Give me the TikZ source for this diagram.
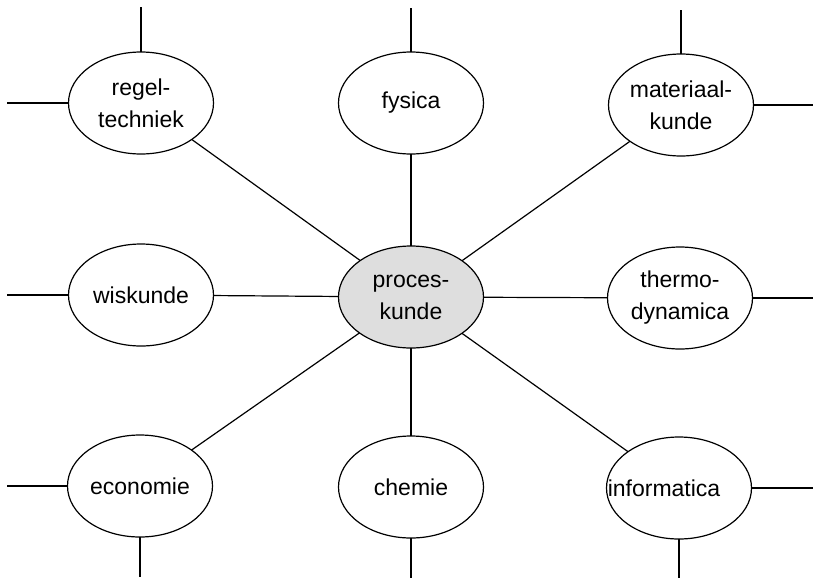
\documentclass[tikz,border=0pt]{standalone}
\usepackage{fontspec}
\setmainfont{Liberation Sans}
\usetikzlibrary{shapes.geometric}
\begin{document}
\begin{tikzpicture}[x=0.5pt,y=-0.5pt,
  ell/.style={ellipse,draw,line width=0.6pt,minimum width=72.5pt,minimum height=51pt,
    inner sep=0pt,outer sep=0pt,align=center,font=\fontsize{11.5}{16}\selectfont},
  ln/.style={line width=0.6pt},
  core/.style={ell,fill=black!13}]
\useasboundingbox (0,0) rectangle (814,579);
% nodes
\node[ell] (R) at (141,103) {regel-\\techniek};
\node[ell] (F) at (411,103) {fysica};
\node[ell] (M) at (681,105) {materiaal-\\kunde};
\node[ell] (W) at (141,295) {wiskunde};
\node[core] (P) at (411,297) {proces-\\kunde};
\node[ell] (T) at (680,298) {thermo-\\dynamica};
\node[ell] (E) at (140,486) {economie};
\node[ell] (C) at (411,487) {chemie};
\node[ell] (I) at (679,488) {\makebox[0pt]{\kern-15pt informatica}};
% free ends
\coordinate (Rt) at (141,7);
\coordinate (Rl) at (7,103);
\coordinate (Ft) at (411,8);
\coordinate (Mt) at (681,10);
\coordinate (Mr) at (813,105);
\coordinate (Wl) at (7,295);
\coordinate (Tr) at (813,298);
\coordinate (El) at (7,486);
\coordinate (Eb) at (140,577);
\coordinate (Cb) at (411,578);
\coordinate (Ir) at (813,488);
\coordinate (Ib) at (679,578);
% stubs
\draw[ln] (R) -- (Rt);
\draw[ln] (R) -- (Rl);
\draw[ln] (F) -- (Ft);
\draw[ln] (M) -- (Mt);
\draw[ln] (M) -- (Mr);
\draw[ln] (W) -- (Wl);
\draw[ln] (T) -- (Tr);
\draw[ln] (E) -- (El);
\draw[ln] (E) -- (Eb);
\draw[ln] (C) -- (Cb);
\draw[ln] (I) -- (Ir);
\draw[ln] (I) -- (Ib);
% connections to centre
\draw[ln] (R) -- (P);
\draw[ln] (F) -- (P);
\draw[ln] (M) -- (P);
\draw[ln] (W) -- (P);
\draw[ln] (T) -- (P);
\draw[ln] (E) -- (P);
\draw[ln] (C) -- (P);
\draw[ln] (I) -- (P);
\end{tikzpicture}
\end{document}
